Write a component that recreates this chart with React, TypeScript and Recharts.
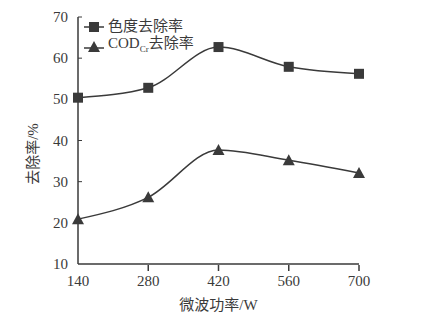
import { Line, LineChart, XAxis, YAxis } from 'recharts'

document.body.style.margin = '0'

const POWER = [140, 280, 420, 560, 700]
const COLOR_REMOVAL = [50.4, 52.8, 62.7, 57.9, 56.2]
const COD_REMOVAL = [20.9, 26.2, 37.7, 35.2, 32.1]
const Y_TICKS = [10, 20, 30, 40, 50, 60, 70]

const FONT = '"Liberation Serif", "Noto Sans CJK SC", serif'
const INK = '#3a3a3a'
const PLOT_LEFT = 78

const data = POWER.map((p, i) => ({ power: p, color: COLOR_REMOVAL[i], cod: COD_REMOVAL[i] }))

function SquareDot(props: any) {
  const { cx, cy } = props
  if (cx == null || cy == null) return null
  return <rect x={cx - 5} y={cy - 5} width={10} height={10} fill={INK} />
}

function TriangleDot(props: any) {
  const { cx, cy } = props
  if (cx == null || cy == null) return null
  return <polygon points={`${cx},${cy - 6} ${cx - 6},${cy + 5} ${cx + 6},${cy + 5}`} fill={INK} />
}

// ticks point inward like the printed figure
function XTick(props: any) {
  const { x, y, payload } = props
  return (
    <g>
      {payload.value !== 140 && <line x1={x} x2={x} y1={y - 1} y2={y - 7} stroke={INK} strokeWidth={1.5} />}
      <text x={x} y={y + 14} textAnchor="middle" fontSize={15} fontFamily={FONT} fill={INK}>
        {payload.value}
      </text>
    </g>
  )
}

function YTick(props: any) {
  const { x, y, payload } = props
  return (
    <g>
      {payload.value !== 10 && <line x1={PLOT_LEFT} x2={PLOT_LEFT + 4} y1={y} y2={y} stroke={INK} strokeWidth={1} />}
      <text x={x} y={y + 5} textAnchor="end" fontSize={15} fontFamily={FONT} fill={INK}>
        {payload.value}
      </text>
    </g>
  )
}

function YLabel() {
  return (
    <text
      x={33}
      y={154}
      transform="rotate(-90 33 154)"
      textAnchor="middle"
      dominantBaseline="central"
      fontSize={15}
      fontFamily={FONT}
      fill={INK}
    >
      去除率/%
    </text>
  )
}

function LegendBox() {
  return (
    <div style={{ position: 'absolute', top: 18, left: 84, fontFamily: FONT, fontSize: 15, color: INK, lineHeight: '17px' }}>
      <div style={{ display: 'flex', alignItems: 'center' }}>
        <svg width={20} height={17}>
          <line x1={0} x2={20} y1={9} y2={9} stroke={INK} strokeWidth={1.5} />
          <rect x={5} y={4} width={10} height={10} fill={INK} />
        </svg>
        <span style={{ marginLeft: 4 }}>色度去除率</span>
      </div>
      <div style={{ display: 'flex', alignItems: 'center' }}>
        <svg width={20} height={17}>
          <line x1={0} x2={20} y1={10} y2={10} stroke={INK} strokeWidth={1.5} />
          <polygon points="10,3 4,14 16,14" fill={INK} />
        </svg>
        <span style={{ marginLeft: 4 }}>
          COD<sub style={{ fontSize: 9 }}>Cr</sub>去除率
        </span>
      </div>
    </div>
  )
}

export default function App() {
  return (
    <div style={{ position: 'relative', width: 430, height: 322, background: '#fff' }}>
      <LineChart width={430} height={322} data={data} margin={{ top: 17, right: 71, bottom: 28, left: 38 }}>
        <XAxis
          dataKey="power"
          type="number"
          domain={[140, 700]}
          ticks={POWER}
          tick={<XTick />}
          tickLine={false}
          axisLine={{ stroke: INK, strokeWidth: 1.5 }}
          height={30}
          label={{ value: '微波功率/W', position: 'insideBottom', offset: -16, fontSize: 15, fontFamily: FONT, fill: INK }}
        />
        <YAxis
          domain={[10, 70]}
          ticks={Y_TICKS}
          width={40}
          tickLine={false}
          axisLine={{ stroke: INK, strokeWidth: 1.5 }}
          tick={<YTick />}
          tickMargin={4}
          label={<YLabel />}
        />
        <Line dataKey="color" type="monotone" stroke={INK} strokeWidth={1.5} dot={<SquareDot />} isAnimationActive={false} />
        <Line dataKey="cod" type="monotone" stroke={INK} strokeWidth={1.5} dot={<TriangleDot />} isAnimationActive={false} />
      </LineChart>
      <LegendBox />
    </div>
  )
}
